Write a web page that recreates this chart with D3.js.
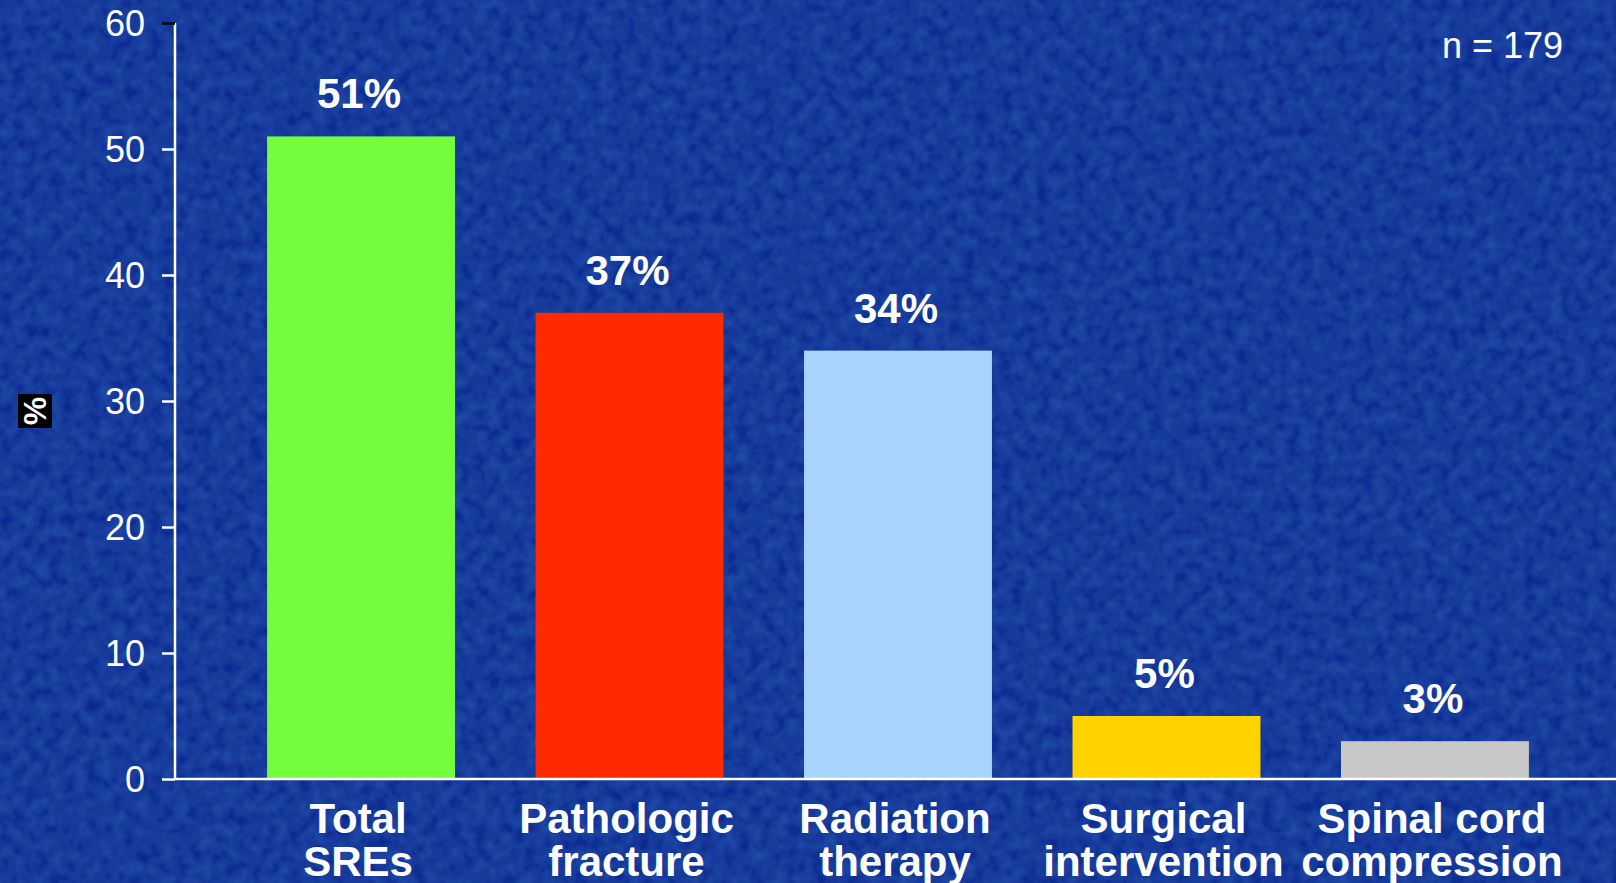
<!DOCTYPE html>
<html>
<head>
<meta charset="utf-8">
<script src="https://cdn.jsdelivr.net/npm/d3@7"></script>
<style>
  html, body { margin: 0; padding: 0; background: #082690; overflow: hidden; }
  svg { display: block; }
</style>
</head>
<body>
<script>
const categories = [["Total", "SREs"], ["Pathologic", "fracture"], ["Radiation", "therapy"], ["Surgical", "intervention"], ["Spinal cord", "compression"]];
const categoryKeys = ["Total SREs", "Pathologic fracture", "Radiation therapy", "Surgical intervention", "Spinal cord compression"];
const values = [51, 37, 34, 5, 3];
const valueLabels = ["51%", "37%", "34%", "5%", "3%"];
const barColors = ["#74fc3f", "#ff2a00", "#a8d4fc", "#ffd200", "#c8c8c8"];
const yTicks = [0, 10, 20, 30, 40, 50, 60];
const noteText = "n = 179";
const yLabel = "%";

const W = 1616, H = 883;
const svg = d3.select("body").append("svg").attr("width", W).attr("height", H);

// textured background
const defs = svg.append("defs");
const f = defs.append("filter").attr("id", "tex").attr("x", 0).attr("y", 0).attr("width", "100%").attr("height", "100%");
f.append("feTurbulence").attr("type", "fractalNoise").attr("baseFrequency", 0.08).attr("numOctaves", 2).attr("seed", 5).attr("result", "noise");
f.append("feColorMatrix").attr("in", "noise").attr("type", "matrix")
  .attr("values", "0 0 0 0 0.05  0 0 0 0 0.22  0 0 0 0 0.70  0 0 0 0.35 -0.05").attr("result", "tint");
f.append("feComposite").attr("in", "tint").attr("in2", "SourceGraphic").attr("operator", "over");
svg.append("rect").attr("width", W).attr("height", H).attr("fill", "#072590");
svg.append("rect").attr("width", W).attr("height", H).attr("fill", "#072590").attr("filter", "url(#tex)");

const x0 = 175, y0 = 779, yTop = 23;
const y = d3.scaleLinear().domain([0, 60]).range([y0, yTop]);
const x = d3.scaleBand().domain(categoryKeys).range([x0, 1621]).paddingInner(0.3).paddingOuter(0.343);

// bars
svg.selectAll("rect.bar").data(values).join("rect")
  .attr("class", "bar")
  .attr("x", (d, i) => x(categoryKeys[i]))
  .attr("width", x.bandwidth())
  .attr("y", d => y(d))
  .attr("height", d => y0 - y(d))
  .attr("fill", (d, i) => barColors[i]);

// y axis
const yAxis = d3.axisLeft(y).tickValues(yTicks).tickSize(13).tickPadding(17).tickFormat(d3.format("d"));
const gy = svg.append("g").attr("transform", `translate(${x0},0)`).call(yAxis);
gy.select(".domain").attr("stroke", "#ffffff").attr("stroke-width", 2.5).attr("d", `M0,${yTop}V${y0}`);
gy.selectAll(".tick line").attr("stroke", (d) => d === 60 ? "#000000" : "#ffffff").attr("stroke-width", 2.5);
gy.selectAll(".tick text").attr("fill", "#ffffff").attr("font-family", "Liberation Sans, Arial, sans-serif")
  .attr("font-size", 36).attr("dy", "0.36em");

// x axis baseline
svg.append("line").attr("x1", x0).attr("x2", W).attr("y1", y0).attr("y2", y0)
  .attr("stroke", "#ffffff").attr("stroke-width", 2.5);

// value labels
svg.selectAll("text.val").data(values).join("text")
  .attr("class", "val")
  .attr("x", (d, i) => x(categoryKeys[i]) + x.bandwidth() / 2 - 2)
  .attr("y", d => y(d) - 28)
  .attr("text-anchor", "middle")
  .attr("fill", "#ffffff")
  .attr("font-family", "Liberation Sans, Arial, sans-serif")
  .attr("font-weight", "bold")
  .attr("font-size", 42)
  .text((d, i) => valueLabels[i]);

// category labels
const cat = svg.selectAll("text.cat").data(categories).join("text")
  .attr("class", "cat")
  .attr("text-anchor", "middle")
  .attr("fill", "#ffffff")
  .attr("font-family", "Liberation Sans, Arial, sans-serif")
  .attr("font-weight", "bold")
  .attr("font-size", 42);
cat.each(function(d, i) {
  const cx = x(categoryKeys[i]) + x.bandwidth() / 2 - 3;
  d3.select(this).selectAll("tspan").data(d).join("tspan")
    .attr("x", cx)
    .attr("y", (t, j) => 833 + j * 43)
    .text(t => t);
});

// y label
const yl = svg.append("g").attr("transform", "translate(35,411)");
yl.append("rect").attr("x", -17).attr("y", -17).attr("width", 34).attr("height", 34).attr("fill", "#000000");
yl.append("text").attr("transform", "rotate(-90)").attr("text-anchor", "middle").attr("dy", "0.35em")
  .attr("fill", "#ffffff").attr("font-family", "Liberation Sans, Arial, sans-serif")
  .attr("font-weight", "bold").attr("font-size", 32).text(yLabel);

// note
svg.append("text").attr("x", 1563).attr("y", 58).attr("text-anchor", "end")
  .attr("fill", "#ffffff").attr("font-family", "Liberation Sans, Arial, sans-serif")
  .attr("font-size", 36).text(noteText);
</script>
</body>
</html>
